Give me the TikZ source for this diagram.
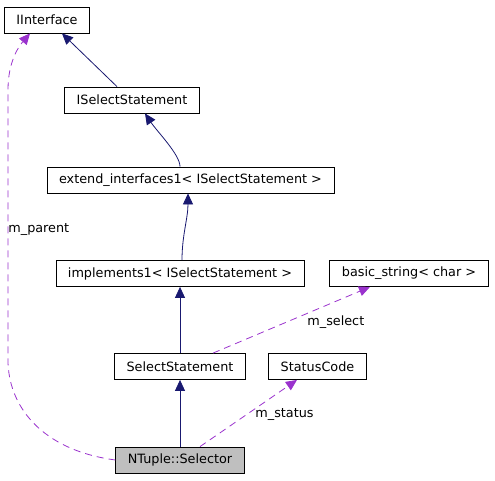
\documentclass[tikz,border=0pt]{standalone}
\usepackage{fontspec}
\setmainfont{DejaVu Sans}
\usetikzlibrary{arrows.meta}
\definecolor{edgeblue}{RGB}{25,25,112}
\definecolor{edgepurple}{RGB}{154,50,205}
\definecolor{boxgray}{RGB}{191,191,191}

\begin{document}
\begin{tikzpicture}[x=1pt,y=-1pt,>={Triangle[length=11pt,width=10pt]},line width=0.8pt,
    class node/.style={rectangle,draw,minimum height=26pt,inner xsep=12pt,font=\fontsize{12.8}{15}\selectfont},
    inherit edge/.style={->,draw=edgeblue},
    member edge/.style={->,draw=edgepurple,dash pattern=on 7pt off 5pt},
    edge label/.style={inner sep=0pt,font=\fontsize{12.8}{15}\selectfont}]

                        \useasboundingbox (0,0) rectangle (495,480);

                        \node[class node] (iif) at (47,20) {IInterface};
                        \node[class node] (isel) at (132,100) {ISelectStatement};
                        \node[class node] (ext) at (190.5,180) {extend\_interfaces1< ISelectStatement >};
                        \node[class node] (impl) at (180,273.5) {implements1< ISelectStatement >};
                        \node[class node] (bstr) at (409,273.5) {basic\_string< char >};
                        \node[class node] (sel) at (180,366.5) {SelectStatement};
                        \node[class node] (stat) at (317.5,366.5) {StatusCode};
                        \node[class node, fill=boxgray] (ntsel) at (180,460) {NTuple::Selector};

                        \node[edge label, anchor=west] (lparent) at (8,229.5) {m\_parent};
                        \node[edge label, anchor=west] (lselect) at (307,322.5) {m\_select};
                        \node[edge label, anchor=west] (lstatus) at (255,414.5) {m\_status};

                        \draw[inherit edge] ([xshift=-15pt]isel.north) -- ([xshift=15pt]iif.south);
                        \draw[inherit edge] ([xshift=-10.5pt]ext.north) .. controls +(0,-12) and +(12,18) .. ([xshift=13pt]isel.south);
                        \draw[inherit edge] ([xshift=2pt]impl.north) .. controls +(0,-25) and +(0,25) .. ([xshift=-2.5pt]ext.south);
                        \draw[inherit edge] (sel) -- (impl);
                        \draw[inherit edge] (ntsel) -- (sel);

                        \draw[member edge] (ntsel.west) .. controls +(-75,-10) and +(0,45) .. (8,360) -- (8,90) .. controls (8,60) and (20,45) .. ([xshift=-17pt]iif.south);
                        \draw[member edge] ([xshift=33pt]sel.north) -- ([xshift=-39pt]bstr.south);
                        \draw[member edge] ([xshift=20pt]ntsel.north) -- ([xshift=-20.5pt]stat.south);

                        ;
                    \end{tikzpicture}
\end{document}
